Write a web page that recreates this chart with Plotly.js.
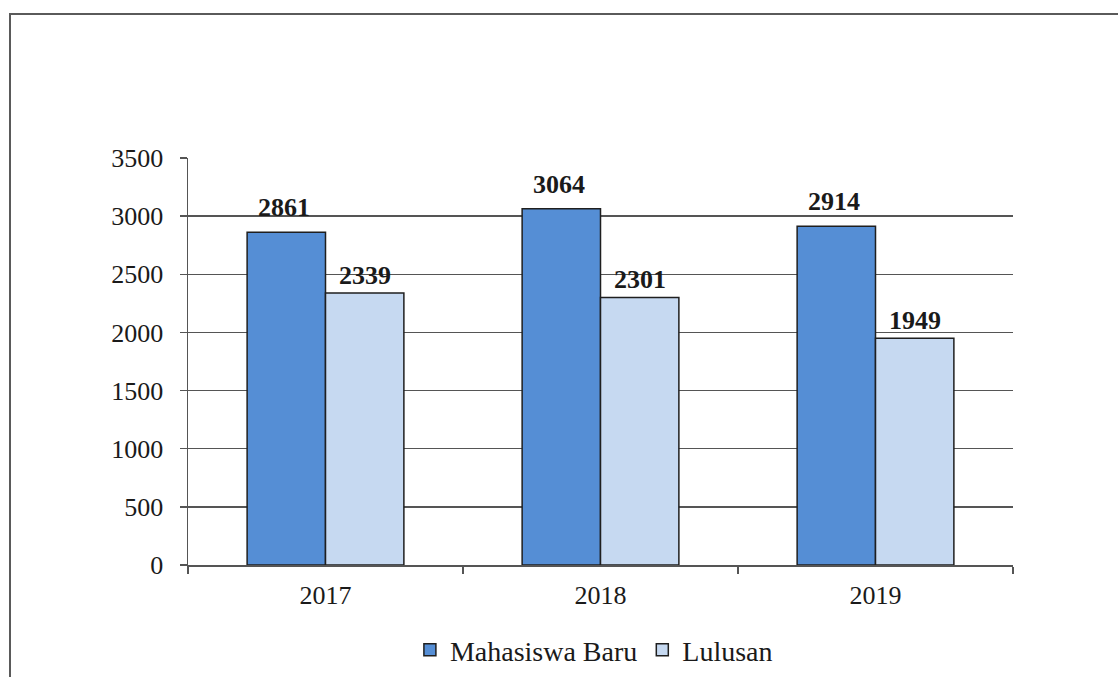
<!DOCTYPE html>
<html>
<head>
<meta charset="utf-8">
<script src="https://cdn.plot.ly/plotly-3.0.1.min.js"></script>
<style>
  html, body { margin: 0; padding: 0; background: #ffffff; overflow: hidden; }
  #chart { width: 1118px; height: 700px; position: absolute; left: 0; top: 0; }
  #frame { position: absolute; left: 9px; top: 13px; width: 1200px; height: 800px;
           border-left: 2px solid #5a5a5a; border-top: 2px solid #5a5a5a; pointer-events: none; }
</style>
</head>
<body>
<div id="chart"></div>
<div id="frame"></div>
<script>
const years = ['2017', '2018', '2019'];
const mahasiswaBaru = [2861, 3064, 2914];
const lulusan = [2339, 2301, 1949];
const seriesNames = ['Mahasiswa Baru', 'Lulusan'];

const FONT = 'Liberation Serif';
const GRID = '#555555';
const colors = ['#558ED5', '#C6D9F1'];

const traces = [mahasiswaBaru, lulusan].map((vals, i) => ({
  type: 'bar',
  name: seriesNames[i],
  x: years,
  y: vals,
  marker: { color: colors[i], line: { color: '#1f1f1f', width: 1.5 } },
  hoverinfo: 'x+y+name'
}));

// data labels as annotations above each bar (x given as category index)
const barShift = 39;
const labelLift = [12, 5];
const annotations = [];
[mahasiswaBaru, lulusan].forEach((vals, i) => {
  vals.forEach((v, j) => {
    annotations.push({
      x: j, y: v, xref: 'x', yref: 'y',
      text: '<b>' + v + '</b>',
      showarrow: false,
      xanchor: 'center', yanchor: 'bottom',
      xshift: (i === 0 ? -barShift - 3 : barShift),
      yshift: labelLift[i] - 4,
      font: { family: FONT, size: 26, color: '#1a1a1a' }
    });
  });
});

const layout = {
  width: 1118, height: 700,
  margin: { l: 188, r: 105, t: 158, b: 135 },
  paper_bgcolor: 'rgba(0,0,0,0)',
  plot_bgcolor: 'rgba(0,0,0,0)',
  font: { family: FONT, size: 26, color: '#1a1a1a' },
  barmode: 'group',
  bargap: 0.43,
  bargroupgap: 0,
  showlegend: true,
  legend: {
    orientation: 'h', x: 0.492, xanchor: 'center', y: -0.209, yanchor: 'middle',
    font: { family: FONT, size: 28, color: '#1a1a1a' },
    traceorder: 'normal'
  },
  xaxis: {
    type: 'category',
    categoryarray: years, categoryorder: 'array',
    range: [-0.5, 2.5], autorange: false,
    tickson: 'boundaries',
    ticks: 'outside', ticklen: 7, tickwidth: 1.5, tickcolor: GRID,
    showline: true, linecolor: GRID, linewidth: 1.5,
    showgrid: false,
    tickangle: 0,
    ticklabelstandoff: 6,
    tickfont: { family: FONT, size: 26, color: '#1a1a1a' },
    fixedrange: true
  },
  yaxis: {
    range: [0, 3500], autorange: false, dtick: 500, tick0: 0,
    ticks: 'outside', ticklen: 7, tickwidth: 1.5, tickcolor: GRID,
    showline: true, linecolor: GRID, linewidth: 1.5,
    showgrid: true, gridcolor: GRID, gridwidth: 1.5,
    zeroline: false,
    ticklabelstandoff: 11,
    tickfont: { family: FONT, size: 26, color: '#1a1a1a' },
    fixedrange: true
  },
  annotations: annotations
};

Plotly.newPlot('chart', traces, layout, { displayModeBar: false, staticPlot: true });
</script>
</body>
</html>
